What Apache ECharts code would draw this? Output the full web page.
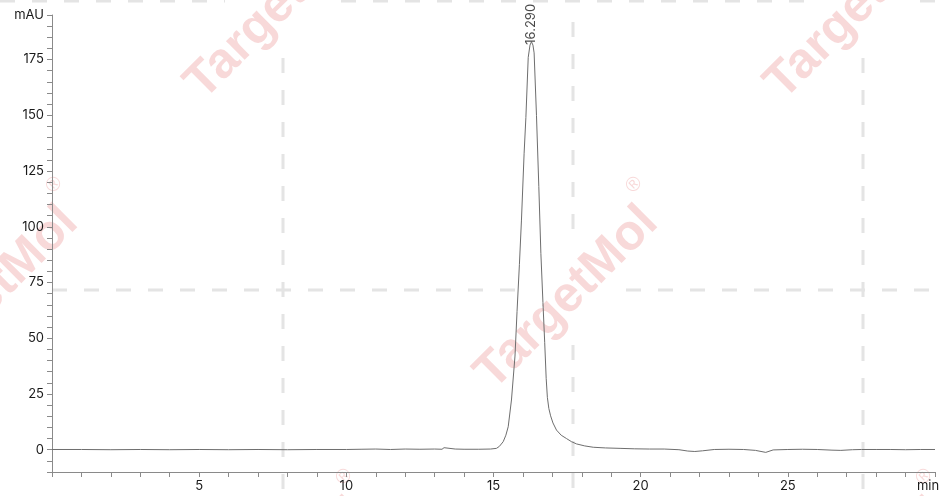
<!DOCTYPE html>
<html>
<head>
<meta charset="utf-8">
<script src="https://cdn.jsdelivr.net/npm/echarts@6/dist/echarts.min.js"></script>
<style>
html,body{margin:0;padding:0;background:#fff;}
#chart{width:944px;height:496px;}
</style>
</head>
<body>
<div id="chart"></div>
<script>
// Retention time (min)
const times = [0,1,2,3,4,5,6,7,8,9,10,10.5,11,11.5,12,12.5,13,13.25,13.32,13.38,13.7,14,14.5,14.9,
  15.1,15.2,15.33,15.42,15.5,15.61,15.73,15.80,15.88,15.95,16.04,16.10,16.18,16.24,16.29,16.34,16.38,
  16.46,16.54,16.61,16.68,16.74,16.79,16.83,16.88,16.94,17.02,17.14,17.3,17.48,17.65,17.82,18.1,18.39,
  18.8,19.3,19.8,20.3,20.8,21.3,21.6,21.84,22.1,22.5,23,23.5,23.9,24.25,24.5,25,25.5,26,26.5,
  26.8,27.2,27.5,28,28.5,29,29.5,30];
// Absorbance (mAU)
const signal = [0.1,0.1,0.0,0.1,0.0,0.1,0.0,0.1,0.0,0.1,0.1,0.2,0.3,0.1,0.3,0.2,0.3,0.2,0.9,0.2,0.3,0.2,0.2,0.3,
  0.6,1.5,3.6,6.5,10.3,22.3,42,62,83,103,133,149,176,181.5,183,181.5,178,
  150,118,88,66,48,32,23.5,18.5,15.2,12.0,8.8,6.5,5.0,3.6,2.6,1.7,1.1,
  0.8,0.6,0.4,0.3,0.3,0.0,-0.6,-0.8,-0.5,0.1,0.2,0.1,-0.3,-1.2,-0.1,0.1,0.2,0.1,-0.2,
  -0.3,0.0,0.1,0.1,0.1,0.0,0.1,0.1];
// Peak annotation
const peakTimes = [16.29];
const peakHeights = [183];
const peakLabels = ['16.290'];
// Axis labels
const xUnit = 'min';
const yUnit = 'mAU';
const xLabelValues = [5,10,15,20,25];
const yLabelValues = [0,25,50,75,100,125,150,175];

const chart = echarts.init(document.getElementById('chart'));

const dashStyle = {stroke:'#e4e4e4', lineWidth:3, lineDash:[15,17]};
function seg(x1,y1,x2,y2){return {type:'line', z:0, silent:true, shape:{x1,y1,x2,y2}, style:dashStyle};}
const wmFill = 'rgba(215,45,45,0.18)';
const rot = Math.PI/4;
function wm(cx,cy){
  return [
    {type:'text', z:0, silent:true, x:cx, y:cy, rotation:rot,
     style:{text:'TargetMol', fill:wmFill, font:'bold 50px "Liberation Sans", Arial, sans-serif',
            align:'center', verticalAlign:'middle', textAlign:'center', textVerticalAlign:'middle'}},
    {type:'text', z:0, silent:true, x:cx+67, y:cy-113, rotation:rot,
     style:{text:'®', fill:wmFill, font:'20px "Liberation Sans", Arial, sans-serif',
            align:'center', verticalAlign:'middle', textAlign:'center', textVerticalAlign:'middle'}}
  ];
}

const graphics = [
  seg(283,58,283,496),
  seg(573,22,573,232), seg(573,345,573,496),
  seg(863,58,863,496),
  seg(52,290,515,290), seg(626,290,944,290),
  seg(0,1,225,1), seg(341,1,805,1), seg(920,1,944,1)
].concat(wm(567,298), wm(277,8), wm(857,8), wm(-13,298), wm(277,590), wm(857,590));

const labelFont = {fontFamily:'Inter, "Noto Sans", sans-serif', fontSize:13, color:'#1a1a1a'};

chart.setOption({
  animation:false,
  backgroundColor:'#fff',
  graphic:{elements:graphics},
  grid:{left:52, right:9, top:15, bottom:24, containLabel:false, outerBoundsMode:'none'},
  xAxis:{
    type:'value', min:0, max:30, interval:1,
    axisLine:{show:true, onZero:false, lineStyle:{color:'#8a8a8a', width:1}},
    axisTick:{show:true, length:5, lineStyle:{color:'#8a8a8a'}},
    splitLine:{show:false},
    axisLabel:Object.assign({margin:8, showMinLabel:true, showMaxLabel:true,
      rich:{u:{fontFamily:'Inter, "Noto Sans", sans-serif', fontSize:13, color:'#1a1a1a', padding:[0,14,0,0]}},
      formatter:function(v){ if (v===30) return '{u|' + xUnit + '}'; return xLabelValues.indexOf(v)>=0 ? String(v) : ''; }}, labelFont)
  },
  yAxis:{
    type:'value', min:-10, max:195, interval:5,
    axisLine:{show:true, lineStyle:{color:'#8a8a8a', width:1}},
    axisTick:{show:true, length:5, lineStyle:{color:'#8a8a8a'}},
    splitLine:{show:false},
    axisLabel:Object.assign({margin:8, showMinLabel:true, showMaxLabel:true,
      formatter:function(v){ if (v===195) return yUnit; return yLabelValues.indexOf(v)>=0 ? String(v) : ''; }}, labelFont)
  },
  series:[
    {
      type:'line', z:3, symbol:'none', smooth:false,
      lineStyle:{color:'#6e6e6e', width:1},
      data:times.map(function(t,i){return [t, signal[i]];})
    },
    {
      type:'scatter', z:4, symbolSize:0,
      data:peakTimes.map(function(t,i){return {value:[t, peakHeights[i]], name:peakLabels[i]};}),
      label:{show:true, position:'top', distance:-3, rotate:90, align:'left', verticalAlign:'middle',
        formatter:function(p){return p.name;},
        fontFamily:'Inter, "Noto Sans", sans-serif', fontSize:13, color:'#1a1a1a'}
    }
  ]
});
</script>
</body>
</html>
